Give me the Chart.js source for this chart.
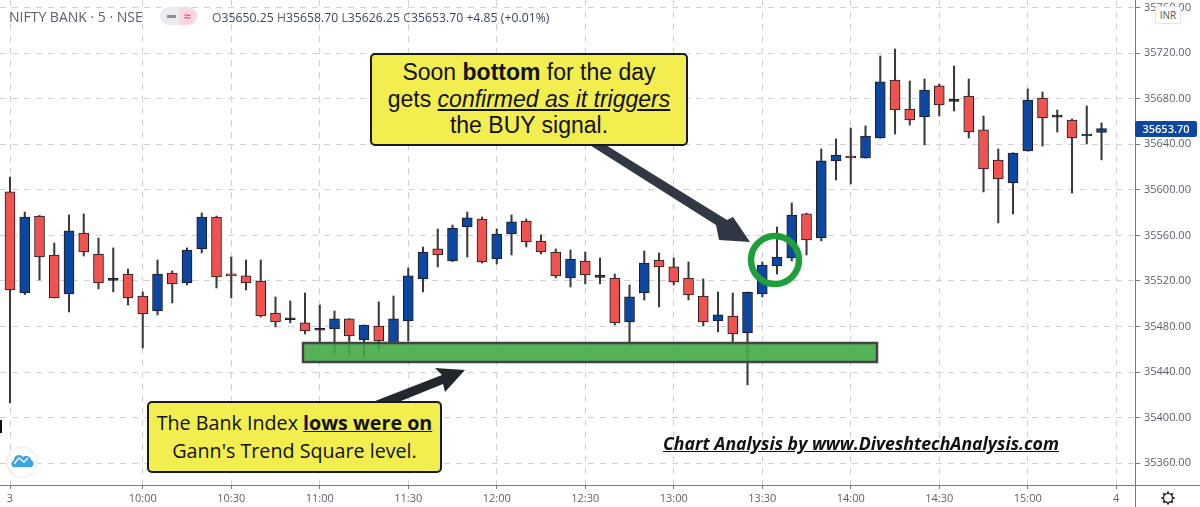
<!DOCTYPE html>
<html>
<head>
<meta charset="utf-8">
<script src="https://cdn.jsdelivr.net/npm/chart.js@4"></script>
<style>
  html, body { margin: 0; padding: 0; background: #fff; }
  #wrap { position: relative; width: 1200px; height: 507px; overflow: hidden; font-family: "Open Sans", sans-serif; }
  #wrap canvas { position: absolute; left: 0; top: 0; }
  .ov { position: absolute; }
  .callout { position: absolute; box-sizing: border-box; background: #f3ee50; border: 2px solid #1a1a1a; border-radius: 5px; text-align: center; color: #111; }
  .hdr { position: absolute; top: 7px; white-space: nowrap; color: #5d606b; }
</style>
</head>
<body>
<div id="wrap">
  <canvas id="c" width="1200" height="507"></canvas>

  <svg class="ov" width="1200" height="507" style="left:0;top:0">
    <!-- zona de Gann -->
    <rect x="303" y="343" width="574" height="19" fill="rgba(66,170,70,0.9)" stroke="#444" stroke-width="2.5"/>
    <!-- flechas -->
    <polygon points="585,142 601,142 727,220 733,217 750,242 719,240 716,225" fill="#2f3843"/>
    <polygon points="370,403 442,375 435,368 465,370 445,392 443,384 396,403" fill="#22272e"/>
    <!-- circulo señal -->
    <circle cx="775" cy="260" r="24" fill="none" stroke="#1f9e3a" stroke-width="6.5"/>
    <!-- logo -->
    <circle cx="22" cy="462" r="15" fill="#fff" stroke="#eef0f3" stroke-width="1.5"/>
    <path d="M13 467 a4 4 0 0 1 1 -7 a5 5 0 0 1 9 -3 a5 5 0 0 1 8 3 a4 4 0 0 1 1 7 z" fill="#3ba3e6"/>
    <polyline points="14,464 19,458 24,462 28,458" fill="none" stroke="#fff" stroke-width="1.4"/>
    <!-- engrane -->
    <g transform="translate(1168,498)" fill="none" stroke="#2a2e39" stroke-width="1.3">
      <circle r="4.6"/>
      <path d="M0 -4.6 V-6.6 M0 4.6 V6.6 M-4.6 0 H-6.6 M4.6 0 H6.6 M-3.3 -3.3 L-4.7 -4.7 M3.3 3.3 L4.7 4.7 M-3.3 3.3 L-4.7 4.7 M3.3 -3.3 L4.7 -4.7" stroke-width="2"/>
    </g>
  </svg>

  <!-- lineas de eje que siguen fuera del area -->
  <div class="ov" style="left:1135px;top:485px;width:1px;height:22px;background:#787b86"></div>
  <div class="ov" style="left:1135px;top:485px;width:65px;height:1px;background:#787b86"></div>
  <div class="ov" style="left:0;top:420px;width:1.5px;height:13px;background:#111"></div>

  <!-- cabecera -->
  <div class="hdr" style="left:9px;font-size:14px">NIFTY BANK · 5 · NSE</div>
  <div class="ov" style="left:160px;top:7px;width:37px;height:18px;border-radius:9px;background:linear-gradient(90deg,#e9ebee 50%,#fbd5e1 50%);color:#e91e63;font-size:13px;line-height:18px;text-align:right;box-sizing:border-box;padding-right:6px">≈</div>
  <div class="ov" style="left:167px;top:15px;width:9px;height:3px;background:#8b8e96"></div>
  <div class="hdr" style="left:212px;font-size:12.2px;top:9px;letter-spacing:0.03px">O<span style="color:#3b465c">35650.25</span> H<span style="color:#3b465c">35658.70</span> L<span style="color:#3b465c">35626.25</span> C<span style="color:#3b465c">35653.70</span> <span style="color:#3b465c">+4.85 (+0.01%)</span></div>

  <!-- etiqueta INR y precio -->
  <div class="ov" style="left:1155px;top:6px;width:26px;height:18px;box-sizing:border-box;background:#fff;border:1px solid #e0e3eb;border-radius:3px;color:#555;font-size:10px;line-height:16px;text-align:center">INR</div>
  <div class="ov" style="left:1135px;top:121px;width:62px;height:16px;background:#0d47a1;border-radius:2px;color:#fff;font-size:11px;font-weight:600;line-height:16px;text-align:center">35653.70</div>

  <!-- cuadros de texto -->
  <div class="callout" style="left:370px;top:53px;width:318px;height:93px;font-family:'Liberation Sans',sans-serif;font-size:23px;line-height:26.5px;padding-top:4px">
    Soon <b>bottom</b> for the day<br>gets <i><u>confirmed as it triggers</u></i><br>the BUY signal.
  </div>
  <div class="callout" style="left:147px;top:401px;width:295px;height:72px;font-size:19.7px;line-height:27.5px;padding-top:6px">
    The Bank Index <b><u>lows were on</u></b><br>Gann's Trend Square level.
  </div>
  <div class="ov" style="left:663px;top:431px;font-size:17.7px;font-weight:700;font-style:italic;text-decoration:underline;color:#111;white-space:nowrap">Chart Analysis by www.DiveshtechAnalysis.com</div>
</div>

<script>
// ── Datos (velas de 5 minutos) ────────────────────────────────────────────
const opens = [
  35598.1, 35509.5, 35577.0, 35542.8, 35508.6, 35562.1, 35543.7, 35521.0, 35526.1, 35506.8,
  35493.7, 35527.0, 35518.3, 35548.1, 35576.1, 35526.1, 35524.4, 35520.0, 35491.9, 35486.5,
  35483.2, 35477.2, 35477.9, 35486.7, 35468.2, 35480.5, 35465.6, 35484.9, 35521.8, 35548.1,
  35537.5, 35567.4, 35574.4, 35539.3, 35561.2, 35572.6, 35555.1, 35545.4, 35522.6, 35537.5,
  35523.8, 35522.6, 35484.0, 35509.5, 35538.4, 35532.3, 35522.6, 35506.8, 35484.9, 35489.3,
  35474.4, 35508.6, 35533.1, 35540.2, 35578.8, 35557.7, 35625.3, 35629.6, 35627.9, 35645.4,
  35696.3, 35670.9, 35663.9, 35691.1, 35678.2, 35682.3, 35652.5, 35626.1, 35606.0, 35634.0,
  35680.5, 35664.1, 35661.2, 35647.2, 35650.25,
];
const highs = [
  35611.2, 35580.5, 35577.5, 35553.3, 35577.9, 35578.8, 35557.7, 35549.0, 35530.5, 35510.4,
  35538.4, 35528.8, 35549.0, 35579.7, 35577.0, 35541.0, 35538.4, 35538.4, 35506.0, 35502.5,
  35509.5, 35498.9, 35493.7, 35487.0, 35481.4, 35501.6, 35506.8, 35531.4, 35549.8, 35565.6,
  35569.1, 35580.5, 35576.1, 35565.6, 35577.9, 35574.4, 35560.4, 35548.1, 35547.2, 35545.4,
  35540.2, 35526.1, 35516.5, 35546.3, 35544.6, 35540.2, 35536.7, 35521.8, 35510.4, 35509.5,
  35510.4, 35536.7, 35567.4, 35588.4, 35579.5, 35635.8, 35644.6, 35654.2, 35656.0, 35717.4,
  35723.5, 35695.4, 35697.2, 35692.8, 35708.6, 35697.2, 35664.7, 35635.8, 35632.5, 35688.4,
  35685.8, 35670.0, 35662.1, 35673.5, 35658.70,
];
const lows = [
  35413.0, 35508.0, 35520.9, 35505.1, 35492.8, 35541.9, 35513.0, 35510.4, 35498.9, 35461.2,
  35490.2, 35500.7, 35516.5, 35544.6, 35513.9, 35505.1, 35512.1, 35488.4, 35479.6, 35483.2,
  35473.5, 35464.7, 35456.0, 35455.1, 35453.3, 35460.4, 35465.2, 35467.3, 35510.4, 35532.3,
  35537.0, 35541.0, 35535.8, 35534.9, 35542.8, 35549.8, 35543.7, 35522.6, 35514.7, 35517.4,
  35517.4, 35481.4, 35463.9, 35503.3, 35497.2, 35516.5, 35503.3, 35480.5, 35475.3, 35465.6,
  35428.8, 35506.0, 35526.1, 35537.5, 35542.8, 35555.1, 35608.6, 35605.1, 35627.7, 35645.2,
  35648.9, 35656.8, 35639.3, 35664.7, 35669.1, 35645.4, 35598.1, 35570.9, 35578.8, 35633.8,
  35638.4, 35650.7, 35597.2, 35640.2, 35626.25,
];
const closes = [
  35512.1, 35576.1, 35541.0, 35505.1, 35563.9, 35545.4, 35518.3, 35520.5, 35505.1, 35491.1,
  35526.1, 35517.4, 35547.2, 35576.1, 35523.5, 35524.4, 35518.3, 35489.3, 35484.0, 35486.0,
  35476.1, 35476.8, 35486.7, 35471.7, 35481.4, 35467.3, 35486.7, 35524.4, 35545.4, 35542.8,
  35566.5, 35575.3, 35536.7, 35561.2, 35571.8, 35554.2, 35545.4, 35524.4, 35539.3, 35525.3,
  35523.2, 35483.2, 35506.0, 35535.8, 35532.3, 35519.1, 35507.7, 35484.0, 35490.2, 35473.5,
  35510.1, 35534.0, 35541.0, 35577.9, 35556.0, 35625.3, 35630.5, 35627.9, 35647.2, 35694.6,
  35670.0, 35661.2, 35687.5, 35674.4, 35677.6, 35650.7, 35618.2, 35609.5, 35632.3, 35678.8,
  35663.0, 35663.7, 35645.4, 35648.9, 35653.70,
];
const barIndex = opens.map((_, i) => i);   // 0 = 09:15 del dia 3

const timeTicks  = [0, 9, 15, 21, 27, 33, 39, 45, 51, 57, 63, 69, 75];
const timeLabels = ['3', '10:00', '10:30', '11:00', '11:30', '12:00', '12:30', '13:00', '13:30', '14:00', '14:30', '15:00', '4'];
const priceTicks = [35360, 35400, 35440, 35480, 35520, 35560, 35600, 35640, 35680, 35720, 35760];

const COL_UP = '#0d47a1', COL_DOWN = '#ef5350', COL_EDGE = '#1c1c1c', COL_WICK = '#3a3a3a';
const GRID = '#cfd1d6', AXIS = '#787b86', LABEL = '#5d606b';

// sin margen extra por las etiquetas de los extremos
function noPadding(s) { s.paddingTop = s.paddingBottom = s.paddingLeft = s.paddingRight = 0; }

// doji casi sin cuerpo: se ve negro
function bodyColor(i) {
    if (Math.abs(closes[i] - opens[i]) < 1) return COL_EDGE;
    return closes[i] >= opens[i] ? COL_UP : COL_DOWN;
}

new Chart(document.getElementById('c').getContext('2d'), {
    type: 'bar',
    data: {
        datasets: [
            {
                // cuerpos
                order: 1,
                data: barIndex.map(i => ({ x: i, y: [opens[i], closes[i]] })),
                backgroundColor: barIndex.map(bodyColor),
                borderColor: COL_EDGE,
                borderWidth: 1, borderSkipped: false,
                barThickness: 10, minBarLength: 2,
                grouped: false,
            },
            {
                // mechas
                order: 2,
                data: barIndex.map(i => ({ x: i, y: [lows[i], highs[i]] })),
                backgroundColor: COL_WICK,
                borderWidth: 0,
                barThickness: 1.4,
                grouped: false,
            },
        ],
    },
    options: {
        responsive: false, animation: false,
        layout: { padding: 0 },
        plugins: { legend: { display: false }, tooltip: { enabled: false } },
        scales: {
            x: {
                type: 'linear', offset: false,
                min: -0.678, max: 76.27,
                afterBuildTicks: s => { s.ticks = timeTicks.map(v => ({ value: v })); },
                afterFit: s => { s.height = 22; noPadding(s); },
                grid: { offset: false, color: GRID, tickColor: AXIS, tickLength: 4, drawTicks: true },
                border: { color: AXIS, dash: [6, 6] },
                ticks: {
                    autoSkip: false, maxRotation: 0, padding: 3,
                    color: LABEL, font: { family: 'Open Sans', size: 11 },
                    callback: v => timeLabels[timeTicks.indexOf(v)],
                },
            },
            y: {
                position: 'right',
                min: 35341.0, max: 35766.5,
                afterBuildTicks: s => { s.ticks = priceTicks.map(v => ({ value: v })); },
                afterFit: s => { s.width = 65; noPadding(s); },
                grid: { color: GRID, tickColor: AXIS, tickLength: 5 },
                border: { color: AXIS, dash: [6, 6] },
                ticks: {
                    autoSkip: false, padding: 4,
                    color: LABEL, font: { family: 'Open Sans', size: 11 },
                    callback: v => v.toFixed(2),
                },
            },
        },
    },
});
</script>
</body>
</html>
